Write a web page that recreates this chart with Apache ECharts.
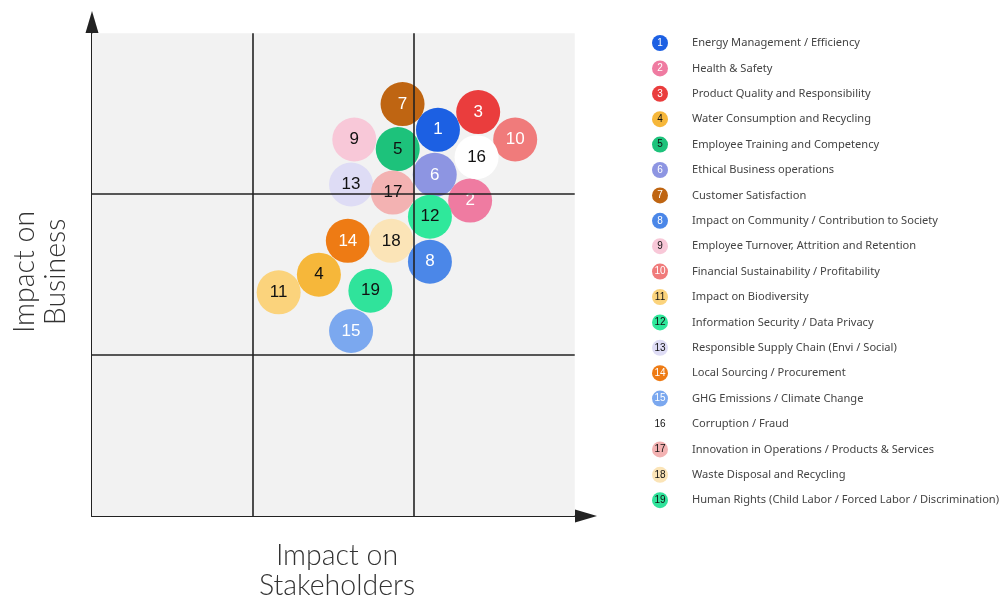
<!DOCTYPE html>
<html>
<head>
<meta charset="utf-8">
<script src="https://cdn.jsdelivr.net/npm/echarts@6/dist/echarts.min.js"></script>
<style>html,body{margin:0;padding:0;background:#fff;}#chart{width:1004px;height:603px;}</style>
</head>
<body>
<div id="chart"></div>
<script>
const topics = [
  'Energy Management / Efficiency',
  'Health & Safety',
  'Product Quality and Responsibility',
  'Water Consumption and Recycling',
  'Employee Training and Competency',
  'Ethical Business operations',
  'Customer Satisfaction',
  'Impact on Community / Contribution to Society',
  'Employee Turnover, Attrition and Retention',
  'Financial Sustainability / Profitability',
  'Impact on Biodiversity',
  'Information Security / Data Privacy',
  'Responsible Supply Chain (Envi / Social)',
  'Local Sourcing / Procurement',
  'GHG Emissions / Climate Change',
  'Corruption / Fraud',
  'Innovation in Operations / Products & Services',
  'Waste Disposal and Recycling',
  'Human Rights (Child Labor / Forced Labor / Discrimination)'
];
// Impact on Stakeholders (x) and Impact on Business (y), scale 0..3
const stakeholderImpact = [2.15, 2.35, 2.40, 1.41, 1.90, 2.13, 1.93, 2.10, 1.63, 2.63, 1.16, 2.10, 1.61, 1.59, 1.61, 2.39, 1.87, 1.86, 1.73];
const businessImpact    = [2.40, 1.96, 2.51, 1.50, 2.28, 2.12, 2.56, 1.58, 2.34, 2.34, 1.39, 1.86, 2.06, 1.71, 1.15, 2.23, 2.01, 1.71, 1.40];
const bubbleColors = ['#1c60e3','#ef7ba1','#ea3d3d','#f6b73a','#1dc27b','#8d95e2','#bf6512','#4b87e8','#f8c8d8','#f07b7b','#fbd37c','#2fe89b','#dedcf5','#ee7b14','#7ba8ef','#ffffff','#f3b2b2','#fbe4b7','#30e39b'];
const labelColors  = ['#ffffff','#ffffff','#ffffff','#111111','#111111','#ffffff','#ffffff','#ffffff','#111111','#ffffff','#111111','#111111','#111111','#ffffff','#ffffff','#111111','#111111','#111111','#111111'];
const quadrantLines = [1, 2];
const scaleMax = 3;

const chart = echarts.init(document.getElementById('chart'));

const rich = { t: { fontSize: 11.1, color: '#444', padding: [0,0,0,24], fontFamily: 'Noto Sans', lineHeight: 16 } };
topics.forEach((n, i) => {
  rich['c' + i] = { width: 16, height: 16, lineHeight: 16, borderRadius: 8, backgroundColor: bubbleColors[i], color: labelColors[i], fontSize: 10, align: 'center', fontFamily: 'Liberation Sans' };
});

const bubbleSeries = topics.map((n, i) => ({
  type: 'scatter', name: n, z: 3, symbolSize: 44,
  data: [[stakeholderImpact[i], businessImpact[i]]],
  itemStyle: { color: bubbleColors[i], opacity: 1 },
  label: { show: true, position: 'inside', formatter: String(i + 1), color: labelColors[i], fontSize: 17, fontFamily: 'Liberation Sans' },
  emphasis: { disabled: true }
}));

const lineData = [];
quadrantLines.forEach(v => {
  lineData.push([{ coord: [v, 0] }, { coord: [v, scaleMax] }]);
  lineData.push([{ coord: [0, v] }, { coord: [scaleMax, v] }]);
});

const bgSeries = {
  type: 'scatter', name: '__bg', z: 1, silent: true, data: [],
  markArea: { silent: true, itemStyle: { color: '#f2f2f2' }, data: [[{ coord: [0, 0] }, { coord: [scaleMax, scaleMax] }]] },
  markLine: { silent: true, symbol: 'none', label: { show: false }, lineStyle: { color: '#222', width: 1.6, type: 'solid' }, data: lineData }
};

const axisCommon = {
  type: 'value', min: 0, max: 3.07,
  axisLine: { show: true, onZero: false, symbol: ['none', 'triangle'], symbolSize: [13, 22], lineStyle: { color: '#222', width: 2 } },
  axisTick: { show: false }, axisLabel: { show: false }, splitLine: { show: false }
};

chart.setOption({
  animation: false,
  backgroundColor: '#ffffff',
  grid: { left: 92, width: 494, top: 22, height: 494 },
  xAxis: axisCommon,
  yAxis: axisCommon,
  legend: {
    orient: 'vertical', left: 642, top: 30, itemWidth: 0, itemHeight: 0, itemGap: 9.4,
    selectedMode: false, data: topics,
    formatter: name => { const i = topics.indexOf(name); return '{c' + i + '|' + (i + 1) + '}{t|' + name + '}'; },
    textStyle: { rich: rich }
  },
  graphic: [
    { type: 'text', x: 337, y: 571, silent: true,
      style: { text: 'Impact on\nStakeholders', textAlign: 'center', align: 'center', textVerticalAlign: 'middle', verticalAlign: 'middle', fontSize: 28.5, fontWeight: 300, fontFamily: 'Lato', lineHeight: 30, fill: '#333' } },
    { type: 'text', x: 40, y: 272, rotation: Math.PI / 2, silent: true,
      style: { text: 'Impact on\nBusiness', textAlign: 'center', align: 'center', textVerticalAlign: 'middle', verticalAlign: 'middle', fontSize: 28.5, fontWeight: 300, fontFamily: 'Lato', lineHeight: 31, fill: '#333' } }
  ],
  series: [bgSeries].concat(bubbleSeries)
});
</script>
</body>
</html>
